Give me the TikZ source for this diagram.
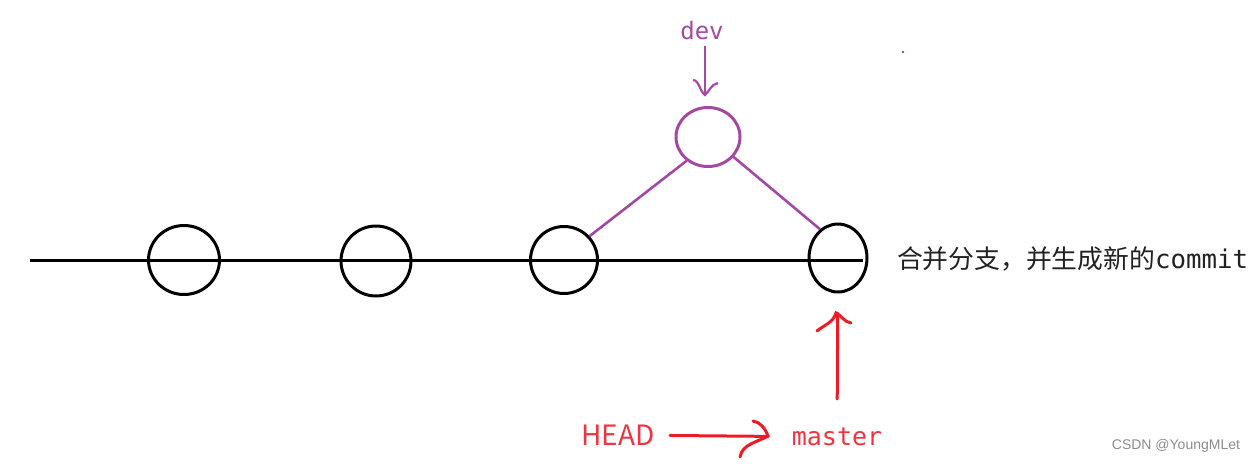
\documentclass[tikz,border=0pt]{standalone}
\usepackage{fontspec}
\setmainfont{Liberation Sans}
\newfontfamily\cjk{Noto Sans CJK SC}
\newfontfamily\monof{DejaVu Sans Mono}
\usetikzlibrary{shapes.geometric,calc}
\definecolor{pur}{HTML}{A349A4}
\definecolor{redl}{HTML}{ED1C24}
\definecolor{redt}{HTML}{EF3340}
\definecolor{txt}{HTML}{222222}
\tikzset{
  commit/.style={ellipse, draw=black, line width=3pt, inner sep=0pt},
  branch/.style={draw=pur, line width=2.6pt},
  redarr/.style={draw=redl, line width=3pt, line cap=round},
  lbl/.style={inner sep=0pt, outer sep=0pt},
}
\begin{document}
\begin{tikzpicture}[x=1pt,y=-1pt]
\useasboundingbox (0,0) rectangle (1256,464);
% commits
\node[commit, minimum width=71pt, minimum height=69pt] (c1) at (184,260) {};
\node[commit, minimum width=70pt, minimum height=70pt] (c2) at (376,261) {};
\node[commit, minimum width=67pt, minimum height=67pt] (c3) at (564,260) {};
\node[commit, minimum width=58pt, minimum height=68pt] (c4) at (838,258) {};
\node[commit, draw=pur, minimum width=64pt, minimum height=59pt] (d) at (708,137) {};
% main line
\coordinate (L) at (30,260);
\coordinate (R) at (863,260);
\draw[line width=3pt] (L) -- (R);
% branch
\draw[branch] (c3.43) -- (d.228);
\draw[branch] (d.-38) -- (c4.122);
% dev label and arrow
\node[lbl, text=pur, font=\monof\fontsize{24pt}{28pt}\selectfont] (devl) at (702,31) {dev};
\coordinate (dtip) at (705,95);
\draw[branch, line width=2.2pt] (devl.south -| dtip) ++(0,6) -- (dtip);
\draw[branch, line width=2.2pt] ($(dtip)+(-12,-15)$) .. controls ($(dtip)+(-6,-15)$) and ($(dtip)+(-5,-3)$) .. (dtip)
  .. controls ($(dtip)+(4,-3)$) and ($(dtip)+(6,-11)$) .. ($(dtip)+(13,-12)$);
% master / HEAD
\node[lbl, text=redt, font=\monof\fontsize{25pt}{30pt}\selectfont] (master) at (837,437) {master};
\node[lbl, text=redt, font=\cjk\fontsize{28pt}{32pt}\selectfont] (head) at (618,435) {HEAD};
\draw[redarr, shorten <=38pt, shorten >=55pt] (master.center) -- (c4.center);
\coordinate (vt) at (836,313);
\draw[redarr] ($(vt)+(-19,18)$) .. controls ($(vt)+(-12,12)$) and ($(vt)+(-3,10)$) .. (vt)
  .. controls ($(vt)+(5,2)$) and ($(vt)+(8,9)$) .. ($(vt)+(15,10)$);
\draw[redarr, shorten <=52pt, shorten >=69pt] (head.center) -- (master.center);
\coordinate (ht) at (768,436);
\draw[redarr] ($(ht)+(-15,-15)$) .. controls ($(ht)+(-8,-14)$) and ($(ht)+(-3,-8)$) .. (ht)
  .. controls ($(ht)+(-10,6)$) and ($(ht)+(-26,8)$) .. ($(ht)+(-28,21)$);
% note
\node[lbl, anchor=west, text=txt, font=\fontsize{25.8pt}{30pt}\selectfont] (note) at (897,259) {\cjk 合并分支，并生成新的\monof commit};
% watermark
\node[lbl, anchor=east, text=black!45, font=\fontsize{14pt}{16pt}\selectfont] (wm) at (1240,446) {CSDN @YoungMLet};
% stray dot
\fill[pur] (902,51) rectangle (904,53);
\end{tikzpicture}
\end{document}
